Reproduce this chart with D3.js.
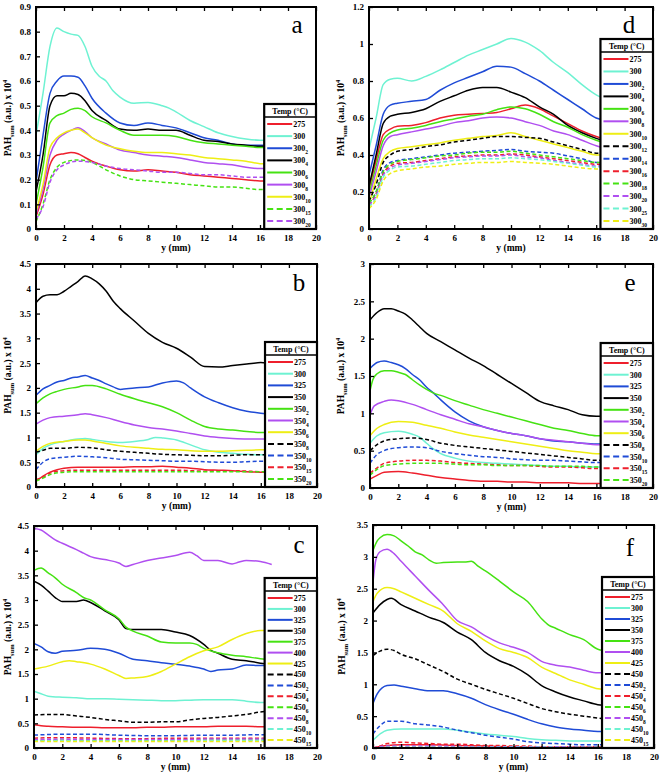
<!DOCTYPE html>
<html><head><meta charset="utf-8">
<script src="https://cdn.jsdelivr.net/npm/d3@7"></script>
<style>body{margin:0;background:#fff}svg{display:block}text{font-family:"Liberation Serif","Times New Roman",serif}</style>
</head><body>
<svg id="chart" width="661" height="776"></svg>
<script>
// ---------- DATA ----------
const xTicks = [0,2,4,6,8,10,12,14,16,18,20];
const yTicksA = [0,0.1,0.2,0.3,0.4,0.5,0.6,0.7,0.8,0.9];
const yTicksD = [0,0.2,0.4,0.6,0.8,1,1.2];
const yTicksB = [0,0.5,1,1.5,2,2.5,3,3.5,4,4.5];
const yTicksE = [0,0.5,1,1.5,2,2.5,3];
const yTicksC = [0,0.5,1,1.5,2,2.5,3,3.5,4,4.5];
const yTicksF = [0,0.5,1,1.5,2,2.5,3,3.5];

// series: [label, subscript, colour, dashed, points]
const seriesA = [
 ["275","","red",false,[[0,.05],[.5,.14],[1,.26],[1.5,.30],[2,.305],[2.5,.31],[3,.305],[3.5,.29],[4,.275],[5,.255],[6,.24],[7,.235],[8,.24],[9,.235],[10,.23],[11,.22],[12,.215],[13,.21],[14,.205],[15,.20],[16,.195],[16.4,.195]]],
 ["300","","cyan",false,[[0,.38],[.5,.55],[1,.74],[1.5,.815],[2,.80],[2.5,.79],[3,.785],[3.5,.74],[4,.66],[4.5,.62],[5,.60],[5.5,.56],[6,.535],[7,.51],[8,.513],[9,.50],[9.5,.49],[10,.475],[11,.44],[12,.415],[13,.39],[14,.375],[15,.365],[16,.36],[16.4,.36]]],
 ["300","2","blue",false,[[0,.19],[.5,.38],[1,.55],[1.5,.60],[2,.62],[2.5,.62],[3,.615],[3.5,.58],[4,.53],[5,.47],[6,.43],[7,.42],[8,.43],[9,.42],[10,.41],[11,.39],[12,.37],[13,.36],[14,.345],[15,.34],[16,.34],[16.4,.34]]],
 ["300","4","black",false,[[0,.15],[.5,.30],[1,.50],[1.5,.54],[2,.54],[2.5,.55],[3,.545],[3.5,.52],[4,.48],[5,.44],[6,.405],[7,.40],[8,.405],[9,.40],[10,.40],[11,.38],[12,.36],[13,.355],[14,.345],[15,.34],[16,.335],[16.4,.335]]],
 ["300","6","green",false,[[0,.10],[.5,.25],[1,.43],[1.5,.46],[2,.47],[2.5,.485],[3,.49],[3.5,.48],[4,.455],[5,.43],[6,.40],[7,.38],[8,.38],[9,.38],[10,.375],[11,.36],[12,.35],[13,.345],[14,.34],[15,.335],[16,.33],[16.4,.33]]],
 ["300","8","purple",false,[[0,.06],[.5,.16],[1,.30],[1.5,.36],[2,.385],[2.5,.40],[3,.41],[3.5,.395],[4,.37],[5,.345],[6,.32],[7,.31],[8,.30],[9,.295],[10,.29],[11,.28],[12,.27],[13,.265],[14,.26],[15,.25],[16,.245],[16.4,.245]]],
 ["300","10","yellow",false,[[0,.07],[.5,.18],[1,.33],[1.5,.37],[2,.39],[2.5,.40],[3,.405],[3.5,.39],[4,.37],[5,.34],[6,.325],[7,.315],[8,.31],[9,.31],[10,.305],[11,.30],[12,.29],[13,.285],[14,.28],[15,.275],[16,.265],[16.4,.265]]],
 ["300","15","green",true,[[0,.03],[.5,.10],[1,.20],[1.5,.25],[2,.27],[3,.28],[4,.27],[5,.24],[6,.215],[7,.20],[8,.195],[9,.19],[10,.185],[11,.18],[12,.175],[13,.17],[14,.17],[15,.165],[16,.16],[16.4,.16]]],
 ["300","20","purple",true,[[0,.04],[.5,.09],[1,.19],[1.5,.24],[2,.26],[3,.275],[4,.27],[5,.255],[6,.245],[7,.24],[8,.235],[9,.23],[10,.23],[11,.225],[12,.22],[13,.22],[14,.215],[15,.21],[16,.21],[16.4,.21]]]
];

const seriesD = [
 ["275","","red",false,[[0,.21],[.5,.37],[1,.51],[1.5,.54],[2,.555],[3,.56],[4,.575],[5,.60],[6,.615],[7,.62],[8,.625],[9,.63],[10,.65],[11,.67],[12,.65],[13,.61],[14,.57],[15,.53],[16,.50],[16.4,.49]]],
 ["300","","cyan",false,[[0,.43],[.5,.60],[1,.78],[1.5,.81],[2,.815],[3,.80],[4,.825],[5,.86],[6,.90],[7,.94],[8,.97],[9,1.0],[10,1.03],[11,1.01],[12,.965],[13,.90],[14,.845],[15,.78],[16,.725],[16.4,.71]]],
 ["300","2","blue",false,[[0,.29],[.5,.45],[1,.62],[1.5,.67],[2,.68],[3,.69],[4,.70],[5,.75],[6,.79],[7,.82],[8,.85],[9,.88],[10,.875],[11,.84],[12,.80],[13,.75],[14,.70],[15,.65],[16,.60],[16.4,.59]]],
 ["300","4","black",false,[[0,.23],[.5,.40],[1,.57],[1.5,.61],[2,.62],[3,.63],[4,.65],[5,.69],[6,.72],[7,.75],[8,.765],[9,.765],[10,.74],[11,.71],[12,.66],[13,.62],[14,.56],[15,.52],[16,.49],[16.4,.48]]],
 ["300","6","green",false,[[0,.19],[.5,.34],[1,.48],[1.5,.52],[2,.535],[3,.545],[4,.56],[5,.58],[6,.595],[7,.61],[8,.62],[9,.645],[10,.66],[11,.65],[12,.62],[13,.58],[14,.55],[15,.51],[16,.48],[16.4,.47]]],
 ["300","8","purple",false,[[0,.17],[.5,.31],[1,.45],[1.5,.50],[2,.51],[3,.525],[4,.54],[5,.555],[6,.575],[7,.585],[8,.60],[9,.605],[10,.60],[11,.58],[12,.56],[13,.53],[14,.51],[15,.48],[16,.45],[16.4,.44]]],
 ["300","10","yellow",false,[[0,.13],[.5,.27],[1,.38],[1.5,.42],[2,.435],[3,.445],[4,.455],[5,.465],[6,.48],[7,.49],[8,.50],[9,.505],[10,.52],[11,.50],[12,.48],[13,.46],[14,.44],[15,.42],[16,.40],[16.4,.40]]],
 ["300","12","black",true,[[0,.15],[.5,.24],[1,.36],[1.5,.40],[2,.42],[3,.43],[4,.445],[5,.455],[6,.47],[7,.48],[8,.49],[9,.50],[10,.50],[11,.495],[12,.49],[13,.47],[14,.45],[15,.43],[16,.41],[16.4,.41]]],
 ["300","14","blue",true,[[0,.14],[.5,.20],[1,.32],[1.5,.36],[2,.37],[3,.38],[4,.39],[5,.40],[6,.41],[7,.415],[8,.42],[9,.425],[10,.43],[11,.42],[12,.415],[13,.41],[14,.395],[15,.38],[16,.36],[16.4,.36]]],
 ["300","16","red",true,[[0,.13],[.5,.19],[1,.30],[1.5,.34],[2,.355],[3,.36],[4,.37],[5,.38],[6,.39],[7,.395],[8,.40],[9,.40],[10,.405],[11,.40],[12,.39],[13,.38],[14,.37],[15,.36],[16,.35],[16.4,.35]]],
 ["300","18","green",true,[[0,.14],[.5,.20],[1,.31],[1.5,.35],[2,.365],[3,.375],[4,.385],[5,.395],[6,.40],[7,.41],[8,.415],[9,.415],[10,.42],[11,.41],[12,.40],[13,.39],[14,.38],[15,.37],[16,.36],[16.4,.36]]],
 ["300","20","purple",true,[[0,.13],[.5,.18],[1,.29],[1.5,.33],[2,.345],[3,.355],[4,.365],[5,.375],[6,.385],[7,.39],[8,.395],[9,.395],[10,.40],[11,.39],[12,.385],[13,.37],[14,.36],[15,.35],[16,.34],[16.4,.34]]],
 ["300","25","cyan",true,[[0,.12],[.5,.17],[1,.28],[1.5,.32],[2,.335],[3,.34],[4,.35],[5,.36],[6,.37],[7,.375],[8,.38],[9,.38],[10,.385],[11,.38],[12,.375],[13,.365],[14,.355],[15,.345],[16,.335],[16.4,.335]]],
 ["300","30","yellow",true,[[0,.11],[.5,.16],[1,.26],[1.5,.30],[2,.315],[3,.325],[4,.335],[5,.34],[6,.35],[7,.355],[8,.36],[9,.36],[10,.365],[11,.36],[12,.355],[13,.35],[14,.34],[15,.33],[16,.325],[16.4,.325]]]
];

const seriesB = [
 ["275","","red",false,[[0,.12],[.5,.22],[1,.30],[1.5,.35],[2,.38],[3,.40],[4,.40],[5,.40],[6,.40],[7,.41],[8,.41],[9,.42],[10,.40],[11,.38],[12,.35],[13,.34],[14,.33],[15,.31],[16,.30],[16.4,.30]]],
 ["300","","cyan",false,[[0,.65],[.5,.78],[1,.85],[2,.92],[3,.97],[3.5,.98],[4,.96],[5,.92],[6,.90],[7,.92],[8,.96],[8.5,1.0],[9,.99],[10,.95],[11,.85],[12,.75],[13,.70],[14,.68],[15,.66],[16,.65],[16.4,.65]]],
 ["325","","blue",false,[[0,1.85],[.5,1.98],[1,2.05],[1.5,2.12],[2,2.15],[2.5,2.2],[3,2.22],[3.5,2.25],[4,2.2],[4.5,2.15],[5,2.08],[5.5,2.02],[6,1.97],[7,2.0],[8,2.02],[9,2.1],[10,2.14],[10.5,2.1],[11,2.0],[12,1.82],[13,1.7],[14,1.6],[15,1.53],[16,1.49],[16.4,1.48]]],
 ["350","","black",false,[[0,3.72],[.5,3.85],[1,3.88],[1.5,3.88],[2,3.95],[2.5,4.05],[3,4.15],[3.5,4.26],[4,4.2],[4.5,4.1],[5,3.95],[5.5,3.75],[6,3.6],[7,3.35],[8,3.1],[9,2.92],[10,2.8],[11,2.62],[12,2.43],[13,2.42],[14,2.45],[15,2.48],[16,2.51],[16.4,2.5]]],
 ["350","2","green",false,[[0,1.68],[.5,1.8],[1,1.88],[1.5,1.93],[2,1.97],[3,2.02],[3.5,2.05],[4,2.05],[5,1.98],[6,1.87],[7,1.78],[8,1.7],[9,1.62],[10,1.5],[11,1.35],[12,1.22],[13,1.17],[14,1.15],[15,1.12],[16,1.1],[16.4,1.1]]],
 ["350","4","purple",false,[[0,1.27],[.5,1.35],[1,1.4],[2,1.43],[3,1.46],[3.5,1.48],[4,1.46],[5,1.4],[6,1.32],[7,1.25],[8,1.2],[9,1.17],[10,1.13],[11,1.08],[12,1.03],[13,1.0],[14,.98],[15,.97],[16,.97],[16.4,.97]]],
 ["350","6","yellow",false,[[0,.72],[.5,.82],[1,.88],[2,.92],[3,.95],[3.5,.95],[4,.93],[5,.88],[6,.83],[7,.8],[8,.78],[9,.76],[10,.75],[11,.73],[12,.72],[13,.72],[14,.73],[15,.74],[16,.75],[16.4,.75]]],
 ["350","8","black",true,[[0,.7],[.5,.74],[1,.78],[2,.78],[3,.8],[4,.79],[5,.75],[6,.72],[7,.7],[8,.68],[9,.66],[10,.65],[11,.64],[12,.63],[13,.63],[14,.64],[15,.65],[16,.65],[16.4,.65]]],
 ["350","10","blue",true,[[0,.35],[.5,.5],[1,.57],[2,.6],[3,.62],[4,.61],[5,.59],[6,.56],[7,.55],[8,.54],[9,.53],[10,.52],[11,.52],[12,.51],[13,.5],[14,.5],[15,.51],[16,.52],[16.4,.52]]],
 ["350","15","red",true,[[0,.15],[.5,.2],[1,.28],[2,.33],[3,.34],[4,.34],[5,.34],[6,.34],[7,.34],[8,.34],[9,.34],[10,.34],[11,.33],[12,.32],[13,.33],[14,.33],[15,.32],[16,.31],[16.4,.31]]],
 ["350","20","green",true,[[0,.12],[.5,.18],[1,.25],[2,.3],[3,.31],[4,.31],[5,.31],[6,.31],[7,.31],[8,.31],[9,.31],[10,.31],[11,.31],[12,.31],[13,.31],[14,.31],[15,.31],[16,.31],[16.4,.31]]]
];

const seriesE = [
 ["275","","red",false,[[0,.12],[.5,.17],[1,.21],[2,.22],[3,.2],[4,.17],[5,.14],[6,.12],[7,.1],[8,.09],[9,.09],[10,.08],[11,.08],[12,.07],[13,.07],[14,.07],[15,.06],[16,.06],[16.4,.06]]],
 ["300","","cyan",false,[[0,.6],[.5,.7],[1,.74],[2,.76],[3,.72],[3.5,.68],[4,.6],[4.5,.52],[5,.46],[6,.4],[7,.36],[8,.34],[9,.33],[10,.32],[11,.31],[12,.3],[13,.29],[14,.29],[15,.28],[16,.28],[16.4,.28]]],
 ["325","","blue",false,[[0,1.6],[.5,1.68],[1,1.7],[1.5,1.68],[2,1.65],[2.5,1.6],[3,1.52],[3.5,1.45],[4,1.35],[4.5,1.27],[5,1.18],[6,1.02],[7,.9],[8,.82],[9,.77],[10,.73],[11,.7],[12,.66],[13,.63],[14,.62],[15,.6],[16,.59],[16.4,.59]]],
 ["350","","black",false,[[0,2.25],[.5,2.35],[1,2.4],[1.5,2.4],[2,2.37],[2.5,2.33],[3,2.25],[3.5,2.16],[4,2.07],[5,1.96],[6,1.85],[7,1.74],[8,1.64],[9,1.52],[10,1.4],[11,1.28],[12,1.16],[13,1.1],[14,1.05],[15,.98],[16,.96],[16.4,.96]]],
 ["350","2","green",false,[[0,1.3],[.2,1.45],[.5,1.53],[1,1.57],[1.5,1.57],[2,1.55],[2.5,1.52],[3,1.45],[3.5,1.38],[4,1.32],[4.5,1.27],[5,1.24],[6,1.17],[7,1.11],[8,1.05],[9,1.0],[10,.95],[11,.9],[12,.85],[13,.8],[14,.77],[15,.73],[16,.7],[16.4,.7]]],
 ["350","4","purple",false,[[0,.98],[.3,1.1],[1,1.16],[1.5,1.18],[2,1.17],[3,1.12],[4,1.05],[5,.98],[6,.92],[7,.86],[8,.82],[9,.77],[10,.73],[11,.7],[12,.66],[13,.64],[14,.62],[15,.6],[16,.58],[16.4,.58]]],
 ["350","6","yellow",false,[[0,.7],[.5,.8],[1,.85],[2,.89],[3,.88],[4,.84],[5,.8],[6,.75],[7,.71],[8,.68],[9,.65],[10,.62],[11,.59],[12,.56],[13,.53],[14,.5],[15,.48],[16,.46],[16.4,.46]]],
 ["350","8","black",true,[[0,.5],[.5,.58],[1,.63],[2,.66],[3,.67],[4,.65],[5,.6],[6,.57],[7,.55],[8,.53],[9,.51],[10,.49],[11,.47],[12,.45],[13,.43],[14,.41],[15,.39],[16,.37],[16.4,.37]]],
 ["350","10","blue",true,[[0,.33],[.5,.45],[1,.5],[2,.54],[3,.55],[4,.54],[5,.49],[6,.46],[7,.44],[8,.42],[9,.41],[10,.39],[11,.38],[12,.37],[13,.37],[14,.36],[15,.35],[16,.34],[16.4,.34]]],
 ["350","15","red",true,[[0,.2],[.5,.27],[1,.33],[2,.36],[3,.37],[4,.37],[5,.36],[6,.34],[7,.33],[8,.32],[9,.31],[10,.3],[11,.3],[12,.29],[13,.28],[14,.28],[15,.27],[16,.26],[16.4,.26]]],
 ["350","20","green",true,[[0,.17],[.5,.25],[1,.3],[2,.32],[3,.33],[4,.33],[5,.33],[6,.32],[7,.31],[8,.31],[9,.3],[10,.3],[11,.3],[12,.3],[13,.29],[14,.29],[15,.29],[16,.28],[16.4,.28]]]
];

const seriesC = [
 ["275","","red",false,[[0,.47],[.5,.45],[1,.44],[2,.43],[3,.42],[4,.42],[5,.41],[6,.41],[7,.41],[8,.42],[9,.42],[10,.43],[11,.43],[12,.43],[13,.44],[14,.44],[15,.44],[16,.43],[16.4,.43]]],
 ["300","","cyan",false,[[0,1.15],[.5,1.1],[1,1.05],[2,1.03],[3,1.02],[4,1.0],[5,1.0],[6,.99],[7,.98],[8,.97],[9,.96],[10,.96],[11,.97],[12,.98],[13,.98],[14,.98],[15,.95],[16,.92],[16.4,.92]]],
 ["325","","blue",false,[[0,2.12],[.5,2.05],[1,1.95],[1.5,1.92],[2,1.96],[3,1.98],[4,2.02],[5,2.0],[6,1.92],[7,1.8],[8,1.77],[9,1.73],[10,1.7],[11,1.66],[12,1.6],[12.5,1.55],[13,1.58],[14,1.6],[15,1.68],[16,1.67],[16.4,1.67]]],
 ["350","","black",false,[[0,3.38],[.5,3.3],[1,3.18],[1.5,3.05],[2,2.97],[3,2.97],[3.5,3.0],[4,2.95],[5,2.78],[6,2.6],[6.5,2.42],[7,2.4],[8,2.4],[9,2.4],[10,2.35],[11,2.28],[12,2.1],[12.5,1.98],[13,1.92],[14,1.8],[15,1.77],[16,1.72],[16.4,1.71]]],
 ["375","","green",false,[[0,3.6],[.5,3.65],[1,3.55],[1.5,3.45],[2,3.32],[3,3.15],[3.5,3.05],[4,3.0],[5,2.8],[6,2.62],[6.5,2.45],[7,2.37],[8,2.27],[9,2.15],[10,2.13],[11,2.13],[11.5,2.1],[12,2.02],[13,1.93],[14,1.88],[15,1.85],[16,1.81],[16.4,1.8]]],
 ["400","","purple",false,[[0,4.45],[.5,4.42],[1,4.32],[1.5,4.22],[2,4.15],[3,4.02],[3.5,3.95],[4,3.88],[5,3.82],[6,3.75],[6.5,3.68],[7,3.72],[8,3.8],[9,3.85],[10,3.9],[11,3.97],[11.5,3.9],[12,3.8],[13,3.8],[14,3.73],[14.5,3.77],[15,3.8],[16,3.78],[16.8,3.72]]],
 ["425","","yellow",false,[[0,1.6],[1,1.66],[2,1.75],[2.5,1.77],[3,1.75],[4,1.7],[5,1.6],[6,1.47],[6.5,1.41],[7,1.42],[8,1.45],[9,1.55],[10,1.7],[11,1.85],[12,1.97],[13,2.05],[14,2.2],[15,2.32],[16,2.38],[16.4,2.38]]],
 ["450","","black",true,[[0,.67],[1,.68],[2,.68],[3,.65],[4,.62],[5,.58],[6,.55],[7,.52],[8,.52],[9,.53],[10,.53],[11,.57],[12,.6],[13,.62],[14,.65],[15,.68],[16,.73],[16.4,.74]]],
 ["450","2","blue",true,[[0,.26],[2,.28],[4,.28],[6,.26],[8,.25],[10,.25],[12,.26],[14,.26],[16,.27],[16.4,.27]]],
 ["450","4","red",true,[[0,.2],[2,.21],[4,.2],[6,.19],[8,.19],[10,.2],[12,.2],[14,.2],[16,.2],[16.4,.2]]],
 ["450","6","green",true,[[0,.15],[2,.16],[4,.15],[6,.15],[8,.15],[10,.16],[12,.16],[14,.16],[16,.16],[16.4,.16]]],
 ["450","8","purple",true,[[0,.17],[2,.18],[4,.17],[6,.17],[8,.17],[10,.17],[12,.18],[14,.18],[16,.18],[16.4,.18]]],
 ["450","10","cyan",true,[[0,.14],[2,.15],[4,.14],[6,.14],[8,.14],[10,.14],[12,.15],[14,.15],[16,.15],[16.4,.15]]],
 ["450","15","yellow",true,[[0,.13],[2,.13],[4,.13],[6,.13],[8,.13],[10,.13],[12,.13],[14,.13],[16,.13],[16.4,.13]]]
];

const seriesF = [
 ["275","","red",false,[[0,0],[1,.04],[2,.05],[4,.05],[6,.04],[8,.03],[10,.02],[12,.01],[14,.01],[16,.01],[17,.01]]],
 ["300","","cyan",false,[[0,.12],[.5,.22],[1,.28],[2,.3],[3,.3],[4,.3],[5,.3],[6,.28],[7,.25],[8,.22],[9,.2],[10,.18],[11,.15],[12,.13],[13,.12],[14,.11],[15,.11],[16,.11],[16.4,.11]]],
 ["325","","blue",false,[[0,.7],[.3,.85],[1,.98],[1.5,.99],[2,.97],[3,.93],[4,.9],[5,.9],[6,.85],[7,.78],[8,.68],[9,.6],[10,.53],[11,.45],[12,.38],[13,.33],[14,.3],[15,.28],[16,.26],[16.4,.26]]],
 ["350","","black",false,[[0,2.12],[.5,2.25],[1,2.33],[1.3,2.35],[2,2.25],[3,2.15],[4,2.05],[5,1.97],[6,1.82],[7,1.7],[8,1.5],[9,1.37],[10,1.28],[11,1.15],[12,.98],[13,.88],[14,.8],[15,.74],[16,.68],[16.4,.67]]],
 ["375","","green",false,[[0,3.1],[.3,3.25],[.5,3.3],[1,3.35],[1.5,3.33],[2,3.25],[2.5,3.17],[3,3.08],[3.5,3.03],[4,2.95],[4.5,2.9],[5,2.91],[6,2.92],[6.5,2.92],[7,2.93],[7.5,2.85],[8,2.78],[9,2.62],[10,2.45],[11,2.3],[12,2.03],[12.5,1.93],[13,1.88],[14,1.78],[15,1.7],[16,1.55],[16.4,1.53]]],
 ["400","","purple",false,[[0,2.6],[.2,2.95],[.5,3.08],[1,3.12],[1.5,3.05],[2,2.93],[3,2.7],[4,2.47],[5,2.25],[6,2.0],[7,1.9],[8,1.76],[9,1.65],[10,1.58],[11,1.5],[12,1.36],[13,1.3],[14,1.27],[15,1.22],[16,1.18],[16.4,1.18]]],
 ["425","","yellow",false,[[0,2.3],[.3,2.43],[1,2.52],[1.5,2.5],[2,2.45],[3,2.35],[4,2.25],[5,2.15],[6,1.95],[7,1.83],[8,1.68],[9,1.56],[10,1.5],[11,1.42],[12,1.27],[13,1.17],[14,1.07],[15,1.0],[16,.93],[16.4,.92]]],
 ["450","","black",true,[[0,1.45],[.5,1.52],[1,1.55],[1.5,1.53],[2,1.47],[3,1.4],[4,1.3],[5,1.2],[6,1.08],[7,1.0],[8,.92],[9,.85],[10,.78],[11,.7],[12,.62],[13,.57],[14,.53],[15,.5],[16,.47],[16.4,.46]]],
 ["450","2","blue",true,[[0,.22],[.5,.35],[1,.42],[2,.42],[3,.38],[4,.36],[5,.33],[6,.28],[7,.24],[8,.2],[9,.17],[10,.14],[11,.1],[12,.08],[13,.07],[14,.06],[15,.05],[16,.05],[16.4,.05]]],
 ["450","4","red",true,[[0,0],[.5,.03],[1,.07],[2,.09],[3,.08],[4,.07],[5,.06],[6,.06],[7,.05],[8,.04],[9,.04],[10,.03],[11,.03],[12,.02],[14,.02],[16,.02],[17,.02]]],
 ["450","6","green",true,[[0,0],[1,.01],[4,.01],[8,.01],[12,.01],[17,.01]]],
 ["450","8","purple",true,[[0,0],[1,.03],[4,.03],[8,.02],[12,.02],[17,.01]]],
 ["450","10","cyan",true,[[0,0],[1,.01],[4,.01],[8,.01],[12,.01],[17,.005]]],
 ["450","15","yellow",true,[[0,0],[1,.005],[4,.005],[8,.005],[12,.005],[17,.005]]]
];

// ---------- DRAWING ----------
const COLORS = {red:"#ee1f2c", cyan:"#6ef2d2", blue:"#1f4bd6", black:"#000000", green:"#45e212", purple:"#b04ff0", yellow:"#eeee14"};
const svg = d3.select("#chart");

const panels = [
 {id:"a", x0:36, x1:316, y0:7, y1:229, ymax:0.9, yt:yTicksA, legTop:104, s:seriesA, ylabX:11, lx:297, ly:33},
 {id:"b", x0:36, x1:317, y0:264, y1:487, ymax:4.5, yt:yTicksB, legTop:342, s:seriesB, ylabX:11, lx:299, ly:291},
 {id:"c", x0:34, x1:317, y0:526, y1:748, ymax:4.5, yt:yTicksC, legTop:578, s:seriesC, ylabX:11, lx:299, ly:553},
 {id:"d", x0:369, x1:653, y0:7, y1:229, ymax:1.2, yt:yTicksD, legTop:39, s:seriesD, ylabX:344, lx:629, ly:33},
 {id:"e", x0:370, x1:653, y0:264, y1:488, ymax:3, yt:yTicksE, legTop:343, s:seriesE, ylabX:344, lx:630, ly:291},
 {id:"f", x0:373, x1:654, y0:525, y1:748, ymax:3.5, yt:yTicksF, legTop:577, s:seriesF, ylabX:345, lx:630, ly:556}
];

const fmt = d3.format("~g");
let clipN = 0;

panels.forEach(p => {
  const x = d3.scaleLinear().domain([0,20]).range([p.x0,p.x1]);
  const y = d3.scaleLinear().domain([0,p.ymax]).range([p.y1,p.y0]);
  const g = svg.append("g");
  const cid = "clip"+(clipN++);
  svg.append("clipPath").attr("id",cid).append("rect")
    .attr("x",p.x0).attr("y",p.y0).attr("width",p.x1-p.x0).attr("height",p.y1-p.y0);

  // lines
  const line = d3.line().x(d=>x(d[0])).y(d=>y(d[1])).curve(d3.curveMonotoneX);
  const lg = g.append("g").attr("clip-path",`url(#${cid})`);
  p.s.forEach(s => {
    lg.append("path").attr("d",line(s[4])).attr("fill","none")
      .attr("stroke",COLORS[s[2]]).attr("stroke-width",1.5)
      .attr("stroke-dasharray", s[3] ? "4,2.5" : null);
  });

  // axes
  const ax = g.append("g").attr("transform",`translate(0,${p.y1})`)
    .call(d3.axisBottom(x).tickValues(xTicks).tickSize(-4).tickPadding(6).tickFormat(fmt));
  const axT = g.append("g").attr("transform",`translate(0,${p.y0})`)
    .call(d3.axisTop(x).tickValues(xTicks).tickSize(-4).tickFormat(""));
  const ay = g.append("g").attr("transform",`translate(${p.x0},0)`)
    .call(d3.axisLeft(y).tickValues(p.yt).tickSize(-4).tickPadding(5).tickFormat(fmt));
  [ax,axT,ay].forEach(a => {
    a.select(".domain").remove();
    a.selectAll(".tick line").attr("stroke","#000").attr("stroke-width",1.3);
    a.selectAll("text").attr("font-family","Liberation Serif, serif").attr("font-weight","bold").attr("font-size",9).attr("fill","#000");
  });

  // frame
  g.append("rect").attr("x",p.x0).attr("y",p.y0).attr("width",p.x1-p.x0).attr("height",p.y1-p.y0)
    .attr("fill","none").attr("stroke","#000").attr("stroke-width",2);

  // x title
  g.append("text").attr("x",(p.x0+p.x1)/2).attr("y",p.y1+22).attr("text-anchor","middle")
    .attr("font-weight","bold").attr("font-size",9.5).text("y (mm)");

  // y title
  const yt = g.append("text").attr("transform",`translate(${p.ylabX},${(p.y0+p.y1)/2}) rotate(-90)`)
    .attr("text-anchor","middle").attr("font-weight","bold").attr("font-size",9.5);
  yt.append("tspan").text("PAH");
  yt.append("tspan").attr("dy",2.5).attr("font-size",6.5).text("sum");
  yt.append("tspan").attr("dy",-2.5).text(" (a.u.) x 10");
  yt.append("tspan").attr("dy",-4).attr("font-size",6.5).text("4");

  // panel letter
  g.append("text").attr("x",p.lx).attr("y",p.ly).attr("font-size",25).attr("text-anchor","middle").text(p.id);

  // legend
  const lx0 = x(16.3), lw = p.x1 - lx0;
  const lgd = g.append("g");
  lgd.append("rect").attr("x",lx0).attr("y",p.legTop).attr("width",lw).attr("height",p.y1-p.legTop)
    .attr("fill","#fff").attr("stroke","#000").attr("stroke-width",2.2);
  const hb = p.legTop + 13;
  lgd.append("line").attr("x1",lx0).attr("x2",p.x1).attr("y1",hb).attr("y2",hb).attr("stroke","#000").attr("stroke-width",1.6);
  lgd.append("text").attr("x",lx0+lw/2).attr("y",p.legTop+9.5).attr("text-anchor","middle")
    .attr("font-weight","bold").attr("font-size",8).text("Temp (°C)");
  const n = p.s.length;
  const first = hb + 7, last = p.y1 - 8;
  const step = (last-first)/(n-1);
  p.s.forEach((s,i) => {
    const yy = first + i*step;
    lgd.append("line").attr("x1",lx0+3).attr("x2",lx0+28).attr("y1",yy).attr("y2",yy)
      .attr("stroke",COLORS[s[2]]).attr("stroke-width",2)
      .attr("stroke-dasharray", s[3] ? "6,3.5" : null);
    const t = lgd.append("text").attr("x",lx0+29).attr("y",yy+3).attr("font-weight","bold").attr("font-size",8);
    t.append("tspan").text(s[0]);
    if (s[1]) t.append("tspan").attr("dy",3).attr("font-size",5.5).text(s[1]);
  });
});
</script>
</body></html>
